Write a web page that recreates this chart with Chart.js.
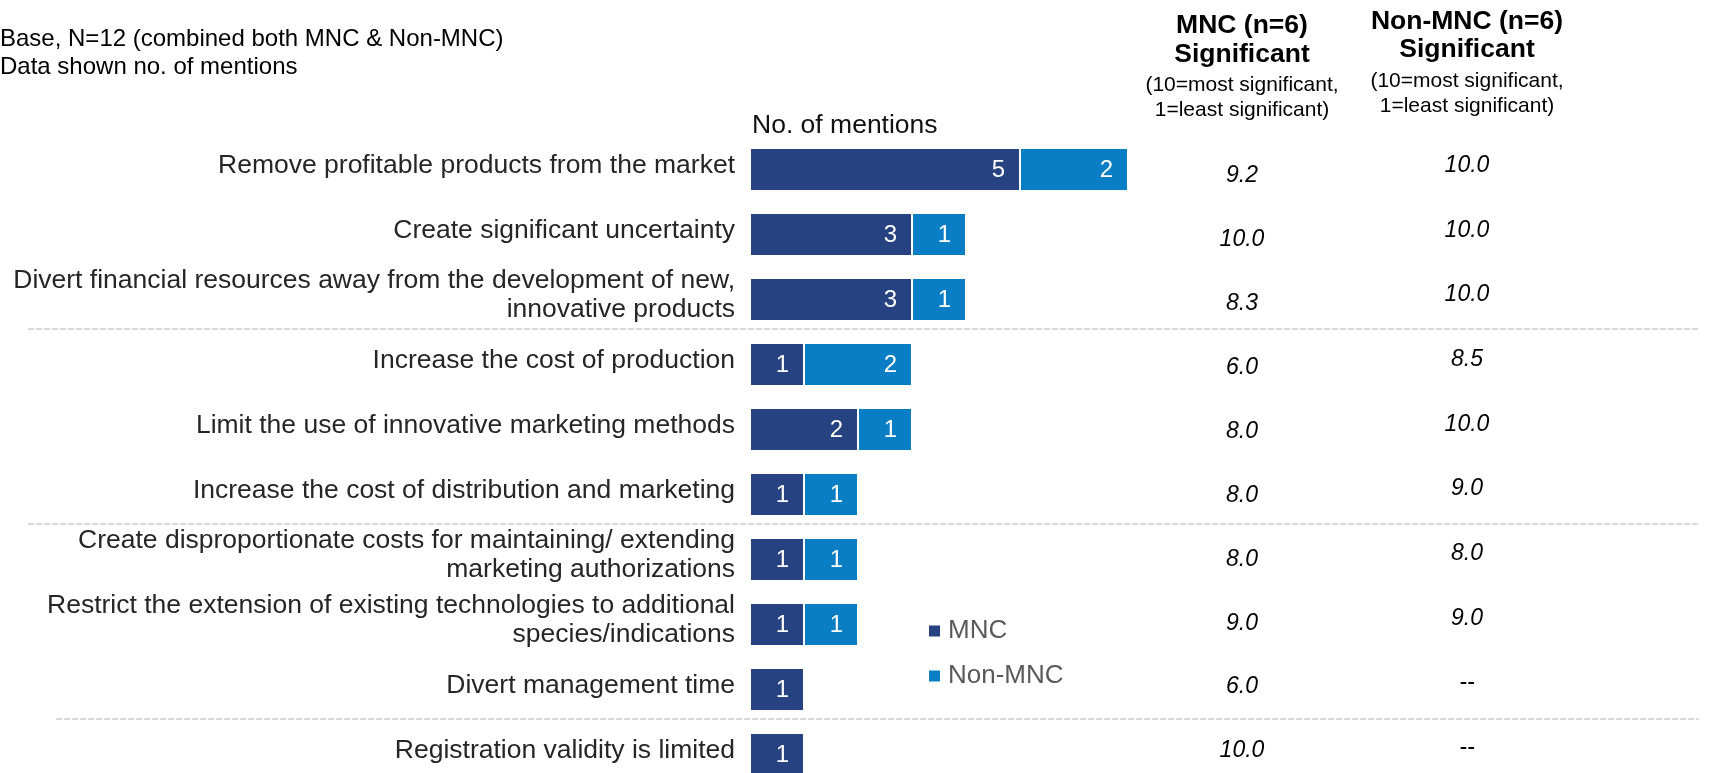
<!DOCTYPE html>
<html>
<head>
<meta charset="utf-8">
<script src="https://cdn.jsdelivr.net/npm/chart.js@4.4.1/dist/chart.umd.min.js"></script>
<style>
  html, body { margin: 0; padding: 0; background: #fff; overflow: hidden; }
  #wrap { width: 1709px; height: 773px; overflow: hidden; }
</style>
</head>
<body>
<div id="wrap">
  <canvas id="barchart" width="1709" height="820"></canvas>
</div>
<script>
const categories = [
  "Remove profitable products from the market",
  "Create significant uncertainty",
  ["Divert financial resources away from the development of new,", "innovative products"],
  "Increase the cost of production",
  "Limit the use of innovative marketing methods",
  "Increase the cost of distribution and marketing",
  ["Create disproportionate costs for maintaining/ extending", "marketing authorizations"],
  ["Restrict the extension of existing technologies to additional", "species/indications"],
  "Divert management time",
  "Registration validity is limited"
];
const mncMentions = [5, 3, 3, 1, 2, 1, 1, 1, 1, 1];
const nonMncMentions = [2, 1, 1, 2, 1, 1, 1, 1, 0, 0];
const mncScore = [9.2, 10.0, 8.3, 6.0, 8.0, 8.0, 8.0, 9.0, 6.0, 10.0];
const nonMncScore = [10.0, 10.0, 10.0, 8.5, 10.0, 9.0, 8.0, 9.0, null, null];
const seriesNames = ["MNC", "Non-MNC"];
const groupBreaks = [3, 6, 9];

const FONT = "'Liberation Sans', Arial, Helvetica, sans-serif";
const colors = ["#274281", "#0a7ec5"];

// dashed separators between groups of rows
const separatorPlugin = {
  id: "separators",
  beforeDatasetsDraw(chart) {
    const c = chart.ctx;
    const y = chart.scales.y;
    const starts = [28, 28, 56];
    c.save();
    c.strokeStyle = "#d9d9d9";
    c.lineWidth = 2;
    c.setLineDash([6, 2]);
    groupBreaks.forEach((b, i) => {
      const py = Math.round((y.getPixelForValue(b - 1) + y.getPixelForValue(b)) / 2) - 3;
      c.beginPath();
      c.moveTo(starts[i], py);
      c.lineTo(1699, py);
      c.stroke();
    });
    c.restore();
  }
};

// numbers inside bar segments
const barLabelPlugin = {
  id: "barLabels",
  afterDatasetsDraw(chart) {
    const c = chart.ctx;
    c.save();
    c.font = "24px " + FONT;
    c.fillStyle = "#ffffff";
    c.textAlign = "right";
    c.textBaseline = "middle";
    chart.data.datasets.forEach((ds, di) => {
      chart.getDatasetMeta(di).data.forEach((bar, i) => {
        if (!ds.data[i]) return;
        c.fillText(String(ds.data[i]), bar.x - 15, bar.y + 1);
      });
    });
    c.restore();
  }
};

// headings, score columns and legend
const extrasPlugin = {
  id: "extras",
  afterDraw(chart) {
    const c = chart.ctx;
    const y = chart.scales.y;
    c.save();
    c.textBaseline = "middle";

    c.fillStyle = "#000";
    c.textAlign = "left";
    c.font = "24px " + FONT;
    c.fillText("Base, N=12 (combined both MNC & Non-MNC)", 0, 39);
    c.fillText("Data shown no. of mentions", 0, 67);
    c.fillStyle = "#111";
    c.font = "26.5px " + FONT;
    c.fillText("No. of mentions", chart.chartArea.left + 2, 126);

    c.textAlign = "center";
    c.fillStyle = "#000";
    c.font = "bold 26.5px " + FONT;
    c.fillText("MNC (n=6)", 1242, 26);
    c.fillText("Significant", 1242, 55);
    c.fillText("Non-MNC (n=6)", 1467, 22);
    c.fillText("Significant", 1467, 50);
    c.font = "21px " + FONT;
    c.fillText("(10=most significant,", 1242, 85);
    c.fillText("1=least significant)", 1242, 110);
    c.fillText("(10=most significant,", 1467, 81);
    c.fillText("1=least significant)", 1467, 106);

    // score columns sit slightly off the bar rows, as in the source table
    c.font = "italic 23px " + FONT;
    categories.forEach((cat, i) => {
      const py = y.getPixelForValue(i);
      c.fillText(mncScore[i].toFixed(1), 1242, py + 6 - i * 1.05);
      const v = nonMncScore[i];
      c.fillText(v == null ? "--" : v.toFixed(1), 1467, py - 4 - i * 0.3);
    });

    c.textAlign = "left";
    c.font = "26px " + FONT;
    seriesNames.forEach((name, i) => {
      const ly = 631 + i * 45;
      c.fillStyle = colors[i];
      c.fillRect(929, ly - 5.5, 11, 11);
      c.fillStyle = "#595959";
      c.fillText(name, 948, ly);
    });
    c.restore();
  }
};

const ctx = document.getElementById("barchart").getContext("2d");
window.barChart = new Chart(ctx, {
  type: "bar",
  data: {
    labels: categories,
    datasets: [
      {
        label: seriesNames[0],
        data: mncMentions,
        backgroundColor: colors[0],
        borderColor: "rgba(255,255,255,0.85)",
        borderWidth: 1,
        borderSkipped: false
      },
      {
        label: seriesNames[1],
        data: nonMncMentions,
        backgroundColor: colors[1],
        borderColor: "rgba(255,255,255,0.85)",
        borderWidth: 1,
        borderSkipped: false
      }
    ]
  },
  options: {
    indexAxis: "y",
    responsive: false,
    animation: false,
    devicePixelRatio: 1,
    categoryPercentage: 1,
    barPercentage: 0.66,
    layout: { padding: { top: 137, bottom: 33, left: 0, right: 41 } },
    scales: {
      x: { stacked: true, display: false, min: 0, max: 17 },
      y: {
        stacked: true,
        grid: { display: false, drawTicks: false },
        border: { display: false },
        ticks: {
          autoSkip: false,
          color: "#262626",
          padding: 15,
          labelOffset: -4,
          font: { size: 26.5, family: FONT, lineHeight: 1.1 }
        },
        afterFit: (scale) => { scale.width = 750; }
      }
    },
    plugins: {
      legend: { display: false },
      tooltip: { enabled: false }
    }
  },
  plugins: [separatorPlugin, barLabelPlugin, extrasPlugin]
});
</script>
</body>
</html>
